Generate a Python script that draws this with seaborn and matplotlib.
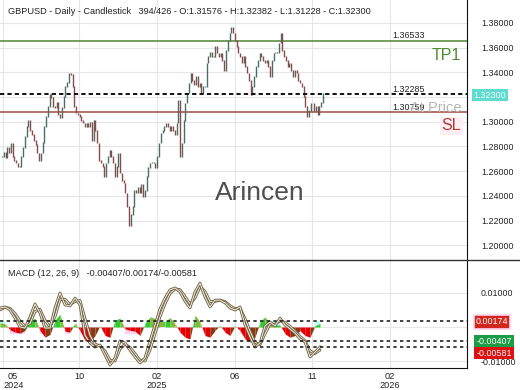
import numpy as np
import matplotlib
matplotlib.use("Agg")
import matplotlib.pyplot as plt
import matplotlib.patheffects as pe
from matplotlib.lines import Line2D
import seaborn as sns

# ---------------- data ----------------
closes = [
    1.2715, 1.2755, 1.2707, 1.2788, 1.2755, 1.2828, 1.2715, 1.2690, 1.2666, 1.2634,
    1.2634, 1.2715, 1.2788, 1.2877, 1.2958, 1.3014, 1.2933, 1.2893, 1.2852, 1.2812,
    1.2747, 1.2690, 1.2747, 1.2836, 1.2958, 1.3039, 1.3120, 1.3217, 1.3193, 1.3120,
    1.3112, 1.3160, 1.3055, 1.3031, 1.3112, 1.3201, 1.3282, 1.3322, 1.3395, 1.3379,
    1.3282, 1.3120, 1.3071, 1.3055, 1.3039, 1.3014, 1.2990, 1.2958, 1.2990, 1.2958,
    1.2998, 1.2852, 1.3014, 1.2933, 1.2828, 1.2690, 1.2666, 1.2634, 1.2553,
    1.2666, 1.2715, 1.2771, 1.2715, 1.2666, 1.2553, 1.2634, 1.2747, 1.2585, 1.2528,
    1.2504, 1.2423, 1.2310, 1.2160, 1.2245, 1.2310, 1.2447, 1.2423, 1.2464, 1.2423,
    1.2488, 1.2391, 1.2447, 1.2553, 1.2626, 1.2666, 1.2674, 1.2666, 1.2626, 1.2715,
    1.2828, 1.2909, 1.2933, 1.2958, 1.2990, 1.2958, 1.2933, 1.2958, 1.2933, 1.2893,
    1.2990, 1.3176, 1.2715, 1.2828, 1.3014, 1.3152, 1.3233, 1.3314, 1.3395, 1.3338,
    1.3298, 1.3363, 1.3282, 1.3314, 1.3241, 1.3282,
    1.3282, 1.3476, 1.3525, 1.3565, 1.3525, 1.3525, 1.3606, 1.3557, 1.3525, 1.3557,
    1.3500, 1.3419, 1.3581, 1.3662, 1.3719, 1.3760, 1.3719, 1.3662, 1.3606, 1.3557,
    1.3525, 1.3476, 1.3525, 1.3444, 1.3395, 1.3338, 1.3217, 1.3282, 1.3363, 1.3444,
    1.3500, 1.3557, 1.3525, 1.3500, 1.3476, 1.3500, 1.3444, 1.3363, 1.3500, 1.3557,
    1.3565, 1.3557, 1.3638, 1.3719, 1.3581, 1.3525, 1.3500, 1.3444, 1.3476, 1.3419,
    1.3363, 1.3419, 1.3395, 1.3338, 1.3314, 1.3282, 1.3201, 1.3120, 1.3039, 1.3095,
    1.3152, 1.3152, 1.3095, 1.3120, 1.3055, 1.3120, 1.3158, 1.3230,
]

macd = [
    0.0056, 0.0059, 0.0050, 0.0026, 0.0000, -0.0003, 0.0029, 0.0068, 0.0041, -0.0003,
    -0.0003, 0.0056, 0.0100, 0.0065, 0.0062, 0.0085, 0.0065, -0.0024, -0.0047, -0.0059,
    -0.0053, -0.0082, -0.0112, -0.0091, -0.0041, -0.0047, -0.0068, -0.0088, -0.0106, -0.0091,
    -0.0041, 0.0006, 0.0053, 0.0085, 0.0109, 0.0115, 0.0103, 0.0076, 0.0056, 0.0103,
    0.0129, 0.0088, 0.0059, 0.0079, 0.0079, 0.0071, 0.0056, 0.0050, 0.0059, 0.0006,
    -0.0029, -0.0059, -0.0047, 0.0003, 0.0015, 0.0003, 0.0026, 0.0006, -0.0006, -0.0018,
    -0.0035, -0.0044, -0.0088, -0.0074, -0.0058,
]
signal = [
    0.0050, 0.0058, 0.0055, 0.0040, 0.0018, 0.0002, 0.0010, 0.0045, 0.0052, 0.0020,
    0.0000, 0.0030, 0.0080, 0.0082, 0.0066, 0.0075, 0.0078, 0.0025, -0.0025, -0.0050,
    -0.0056, -0.0070, -0.0098, -0.0100, -0.0065, -0.0050, -0.0060, -0.0078, -0.0098, -0.0100,
    -0.0068, -0.0020, 0.0030, 0.0068, 0.0098, 0.0112, 0.0110, 0.0090, 0.0068, 0.0085,
    0.0118, 0.0105, 0.0075, 0.0075, 0.0079, 0.0075, 0.0063, 0.0054, 0.0056, 0.0025,
    -0.0012, -0.0045, -0.0052, -0.0020, 0.0008, 0.0008, 0.0018, 0.0014, 0.0002, -0.0012,
    -0.0028, -0.0040, -0.0070, -0.0078, -0.0068,
]
hist = [
    0.0012, 0.0010, -0.0008, -0.0015, -0.0018, -0.0010, 0.0018, 0.0026, -0.0010, -0.0030,
    -0.0022, 0.0020, 0.0038, -0.0012, -0.0015, 0.0012, -0.0010, -0.0040, -0.0044, -0.0025,
    0.0004, -0.0025, -0.0030, 0.0020, 0.0026, -0.0005, -0.0010, -0.0012, -0.0025, 0.0010,
    0.0030, 0.0025, 0.0015, 0.0015, 0.0028, 0.0010, -0.0015, -0.0030, -0.0035, 0.0035,
    0.0015, -0.0025, -0.0030, -0.0010, 0.0005, -0.0015, -0.0025, 0.0004, -0.0010, -0.0035,
    -0.0044, -0.0030, 0.0015, 0.0030, 0.0008, 0.0005, 0.0006, -0.0020, -0.0030, -0.0025,
    -0.0010, -0.0025, -0.0030, 0.0004, 0.0010,
]

x_tick_pos = [0.6, 43.7, 87.9, 132.1, 175.8, 220.0]
x_tick_labels = ["05\n2024", "10", "02\n2025", "06", "11", "02\n2026"]
price_ticks = [1.20, 1.22, 1.24, 1.26, 1.28, 1.30, 1.32, 1.34, 1.36, 1.38]
macd_ticks = [-0.01, 0.0, 0.01]

tp1 = 1.36533
entry = 1.32285
sl = 1.30759
last_price = 1.32300
macd_levels = [0.00174, -0.00407, -0.00581]
title = "GBPUSD - Daily - Candlestick   394/426 - O:1.31576 - H:1.32382 - L:1.31228 - C:1.32300"
macd_title = "MACD (12, 26, 9)   -0.00407/0.00174/-0.00581"

# ---------------- style ----------------
sns.set_style("white")
plt.rcParams["font.family"] = ["Liberation Sans", "DejaVu Sans"]

W, H = 520, 390
BAR_PX = 321 / 182          # pixels per bar
MACD_STEP_PX = 5            # macd samples were read every 5 px
UP, DN = "#4a6e64", "#8a4a48"
GRID = "#e6e6e6"

fig = plt.figure(figsize=(W / 100, H / 100), dpi=100)
right = 467 / W
ax = fig.add_axes([0, 1 - 260 / H, right, 260 / H])
axm = fig.add_axes([0, 1 - 368 / H, right, 108 / H])

xlim = (-2 / BAR_PX, (467 - 2) / BAR_PX)

# ---------------- price panel ----------------
c = np.array(closes)
o = np.r_[c[0], c[:-1]]
idx = np.arange(len(c))
lo = np.minimum(o, c) - 0.0004
hi = np.maximum(o, c) + 0.0004
up = c >= o
ax.vlines(idx[up], lo[up], hi[up], color=UP, lw=1.0, zorder=3)
ax.vlines(idx[~up], lo[~up], hi[~up], color=DN, lw=1.0, zorder=3)

ax.axhline(tp1, color="#5e8f41", lw=1.2, zorder=2)
ax.axhline(sl, color="#a65a50", lw=1.2, zorder=2)
ax.axhline(entry, color="#111111", lw=1.4, ls=(0, (2.2, 1.6)), zorder=4)

ax.set_xlim(*xlim)
ax.set_ylim(1.38 - 237 * 0.00081, 1.38 + 23 * 0.00081)
ax.set_yticks(price_ticks)
# the 1.32000 label sits under the last-price box in the reference
ax.set_yticklabels(["" if abs(v - 1.32) < 1e-9 else f"{v:.5f}" for v in price_ticks])
ax.yaxis.tick_right()
ax.tick_params(axis="y", length=0, pad=10, labelsize=6.4, colors="#222222")
ax.set_xticks(x_tick_pos)
ax.tick_params(axis="x", length=0, labelbottom=False)
ax.grid(True, color=GRID, lw=0.8)
ax.set_axisbelow(True)
for s in ["top", "left"]:
    ax.spines[s].set_visible(False)
ax.spines["right"].set_color("#111111")
ax.spines["bottom"].set_visible(False)

# ---------------- MACD panel ----------------
mx = (np.arange(len(macd)) * MACD_STEP_PX - 2) / BAR_PX
h = np.array(hist)
axm.fill_between(mx, 0, 0.0018, where=h > 0, step="mid", color="#b9fff1", lw=0, zorder=1)
axm.fill_between(mx, 0, -0.0022, where=h < 0, step="mid", color="#ffd0ef", lw=0, zorder=1)

G1, G2, R1, R2 = "#2fcc2f", "#86b83a", "#e40000", "#8a3a12"
for j in range(len(h) - 1):
    x0, x1, y0, y1 = mx[j], mx[j + 1], h[j], h[j + 1]
    if y0 * y1 < 0:
        xc = x0 + (x1 - x0) * y0 / (y0 - y1)
        segs = [(x0, xc, y0, 0.0), (xc, x1, 0.0, y1)]
    else:
        segs = [(x0, x1, y0, y1)]
    for a, b, ya, yb in segs:
        pos = (ya + yb) > 0
        rising = yb > ya
        if pos:
            col = G1 if rising else G2
        else:
            col = R2 if rising else R1
        axm.fill_between([a, b], [ya, yb], 0, color=col, lw=0, zorder=2)

line_fx = [pe.Stroke(linewidth=2.0, foreground="#6e6242"), pe.Normal()]
sns.lineplot(x=mx, y=signal, ax=axm, color="#f4f1e6", lw=0.7, zorder=5, path_effects=line_fx)
sns.lineplot(x=mx, y=macd, ax=axm, color="#f4f1e6", lw=0.7, zorder=6, path_effects=line_fx)

for lv in macd_levels:
    axm.axhline(lv, color="#222222", lw=1.2, ls=(0, (2, 2)), zorder=7)

axm.set_xlim(*xlim)
axm.set_ylim(-41 * 0.000294, 67 * 0.000294)
axm.set_yticks(macd_ticks)
# the 0 label is hidden under the signal box in the reference
axm.set_yticklabels(["" if v == 0 else f"{v:.5f}" for v in macd_ticks])
axm.yaxis.tick_right()
axm.tick_params(axis="y", length=0, pad=10, labelsize=6.4, colors="#222222")
axm.set_xticks(x_tick_pos)
axm.set_xticklabels(x_tick_labels, fontsize=6.6, color="#222222", linespacing=1.0)
axm.tick_params(axis="x", length=0, pad=3)
lab0 = axm.get_xticklabels()[0]
lab0.set_ha("left")
lab0.set_multialignment("center")
axm.grid(True, color=GRID, lw=0.8)
axm.set_axisbelow(True)
axm.spines["top"].set_visible(False)
axm.spines["left"].set_visible(False)
axm.spines["right"].set_color("#111111")
axm.spines["bottom"].set_color("#111111")

# panel separator
fig.add_artist(Line2D([0, 1], [1 - 260 / H, 1 - 260 / H], color="#333333", lw=1.0))

# ---------------- texts ----------------
def fy(py):
    return 1 - py / H

fig.text(8 / W, fy(12), title, fontsize=6.6, color="#222222", va="center")
fig.text(8 / W, fy(273), macd_title, fontsize=6.6, color="#222222", va="center")
fig.text(260 / W, fy(193), "Arincen", fontsize=19, color="#4f4f4f", ha="center", va="center")

fig.text(392 / W, fy(36), f"{tp1:.5f}", fontsize=6.4, color="#222222", va="center")
fig.text(392 / W, fy(89), f"{entry:.5f}", fontsize=6.4, color="#222222", va="center")
fig.text(392 / W, fy(108), f"{sl:.5f}", fontsize=6.4, color="#222222", va="center")
fig.text(461 / W, fy(108), "At Price", fontsize=10.5, color="#b4b4b4", ha="right", va="center")
fig.text(461 / W, fy(55), "TP1", fontsize=11.5, color="#4f8a2e", ha="right", va="center")
fig.text(461 / W, fy(126), "SL", fontsize=11.5, color="#b03a36", ha="right", va="center",
         bbox=dict(boxstyle="square,pad=0.1", fc="#ffeef2", ec="none"))

box = dict(boxstyle="square,pad=0.2", ec="none")
fig.text(490 / W, fy(95), f"{last_price:.5f}", fontsize=6.4, color="#f2fbfb", ha="center",
         va="center", bbox=dict(box, fc="#5fdccf"))
fig.text(492 / W, fy(322), f"{macd_levels[0]:.5f}", fontsize=6.4, color="white", ha="center",
         va="center", bbox=dict(boxstyle="square,pad=0.25", fc="#d0261c", ec="#ffd3ef", lw=1.2))
fig.text(494 / W, fy(341), f"{macd_levels[1]:.5f}", fontsize=6.4, color="white", ha="center",
         va="center", bbox=dict(box, fc="#1c9c46"))
fig.text(494 / W, fy(353), f"{macd_levels[2]:.5f}", fontsize=6.4, color="white", ha="center",
         va="center", bbox=dict(box, fc="#de1010"))

fig.savefig("out.png", dpi=100)
